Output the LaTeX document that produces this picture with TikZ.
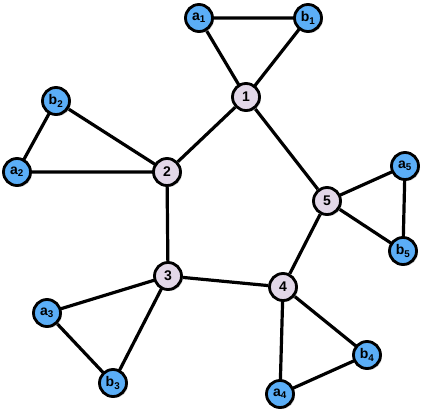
\documentclass[tikz,border=0pt]{standalone}
\usepackage{fontspec}
\setsansfont{Liberation Sans}
\usetikzlibrary{shadows,backgrounds}
\definecolor{hubfill}{HTML}{E2D7E8}
\definecolor{leaffill}{HTML}{5BAEF7}
\newcommand{\lbl}[2]{#1\textsubscript{#2}}
\tikzset{
  vtx/.style={circle,draw=black,line width=2.8pt,minimum size=27pt,inner sep=0pt,
    font=\fontsize{14}{15}\selectfont\sffamily\bfseries,
    drop shadow={shadow xshift=1.5pt,shadow yshift=-1.5pt,fill=black!35,opacity=.6}},
  hub/.style={vtx,fill=hubfill},
  leaf/.style={vtx,fill=leaffill},
  edge/.style={line width=3.2pt}
}
\begin{document}
\begin{tikzpicture}[x=1pt,y=-1pt]
\useasboundingbox (0,0) rectangle (426,412);
% centre vertices
\node[hub] (v1) at (246,97) {1};
\node[hub] (v2) at (167,172) {2};
\node[hub] (v3) at (168,276) {3};
\node[hub] (v4) at (283,287) {4};
\node[hub] (v5) at (327,201) {5};
% outer triangles
\node[leaf] (a1) at (199,18) {\lbl{a}{1}};
\node[leaf] (b1) at (308,18) {\lbl{b}{1}};
\node[leaf] (a2) at (17,172) {\lbl{a}{2}};
\node[leaf] (b2) at (56,101) {\lbl{b}{2}};
\node[leaf] (a3) at (47,313) {\lbl{a}{3}};
\node[leaf] (b3) at (113,383) {\lbl{b}{3}};
\node[leaf] (a4) at (280,394) {\lbl{a}{4}};
\node[leaf] (b4) at (367,355) {\lbl{b}{4}};
\node[leaf] (a5) at (405,166) {\lbl{a}{5}};
\node[leaf] (b5) at (403,251) {\lbl{b}{5}};
\begin{scope}[on background layer]
\foreach \i/\j in {1/2,2/3,3/4,4/5,5/1}
  \draw[edge] (v\i) -- (v\j);
\foreach \i in {1,...,5}
  \draw[edge] (v\i.center) -- (a\i.center) -- (b\i.center) -- cycle;
\end{scope}
\end{tikzpicture}
\end{document}
